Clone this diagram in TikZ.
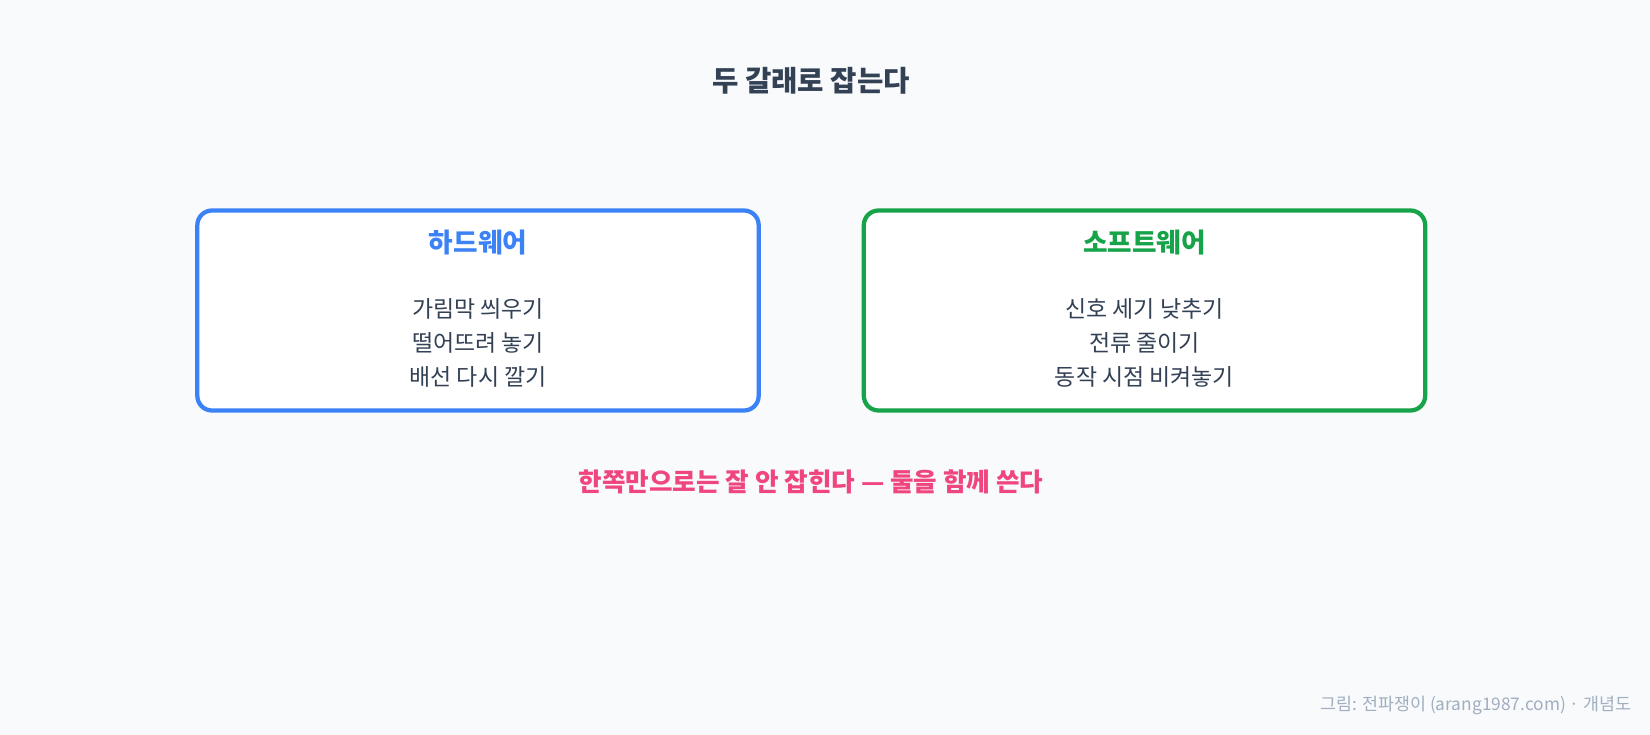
\documentclass[tikz,border=0pt]{standalone}
\usepackage{fontspec}
\setmainfont{Noto Sans CJK KR}
\definecolor{bgc}{HTML}{F8FAFC}
\definecolor{ink}{HTML}{334155}
\definecolor{hwblue}{HTML}{3B82F6}
\definecolor{swgreen}{HTML}{16A34A}
\definecolor{pinkc}{HTML}{F0467F}
\definecolor{footc}{HTML}{A0AEC0}
\tikzset{
  px/.style={x=0.75pt,y=-0.75pt},
  panel/.style={draw=#1, line width=3.2pt, rounded corners=11pt, fill=white, minimum width=421pt, minimum height=150pt, inner sep=0pt},
  paneltitle/.style={font=\fontsize{20pt}{24pt}\selectfont\bfseries, text=#1, anchor=center},
  items/.style={font=\fontsize{17.2pt}{25.5pt}\selectfont, text=ink, align=center, anchor=center},
}
\begin{document}
\begin{tikzpicture}[px]
\fill[bgc] (0,0) rectangle (1650,735);
\useasboundingbox (0,0) rectangle (1650,735);
\node[font=\fontsize{21.5pt}{25pt}\selectfont\bfseries, text=ink] (title) at (811,81) {두 갈래로 잡는다};
\node[panel=hwblue] (hw) at (478,310.5) {};
\node[panel=swgreen] (sw) at (1144.5,310.5) {};
\node[paneltitle=hwblue] (hwt) at (478,243) {하드웨어};
\node[paneltitle=swgreen] (swt) at (1144.5,243) {소프트웨어};
\node[items] (hwi) at (478,343) {가림막 씌우기\\떨어뜨려 놓기\\배선 다시 깔기};
\node[items] (swi) at (1144.5,343) {신호 세기 낮추기\\전류 줄이기\\동작 시점 비켜놓기};
\node[font=\fontsize{19.2pt}{23pt}\selectfont\bfseries, text=pinkc] (note) at (811,482) {한쪽만으로는 잘 안 잡힌다 — 둘을 함께 쓴다};
\node[font=\fontsize{13pt}{15pt}\selectfont, text=footc, anchor=east] (foot) at (1636,705) {그림: 전파쟁이 (arang1987.com) · 개념도};
\end{tikzpicture}
\end{document}
